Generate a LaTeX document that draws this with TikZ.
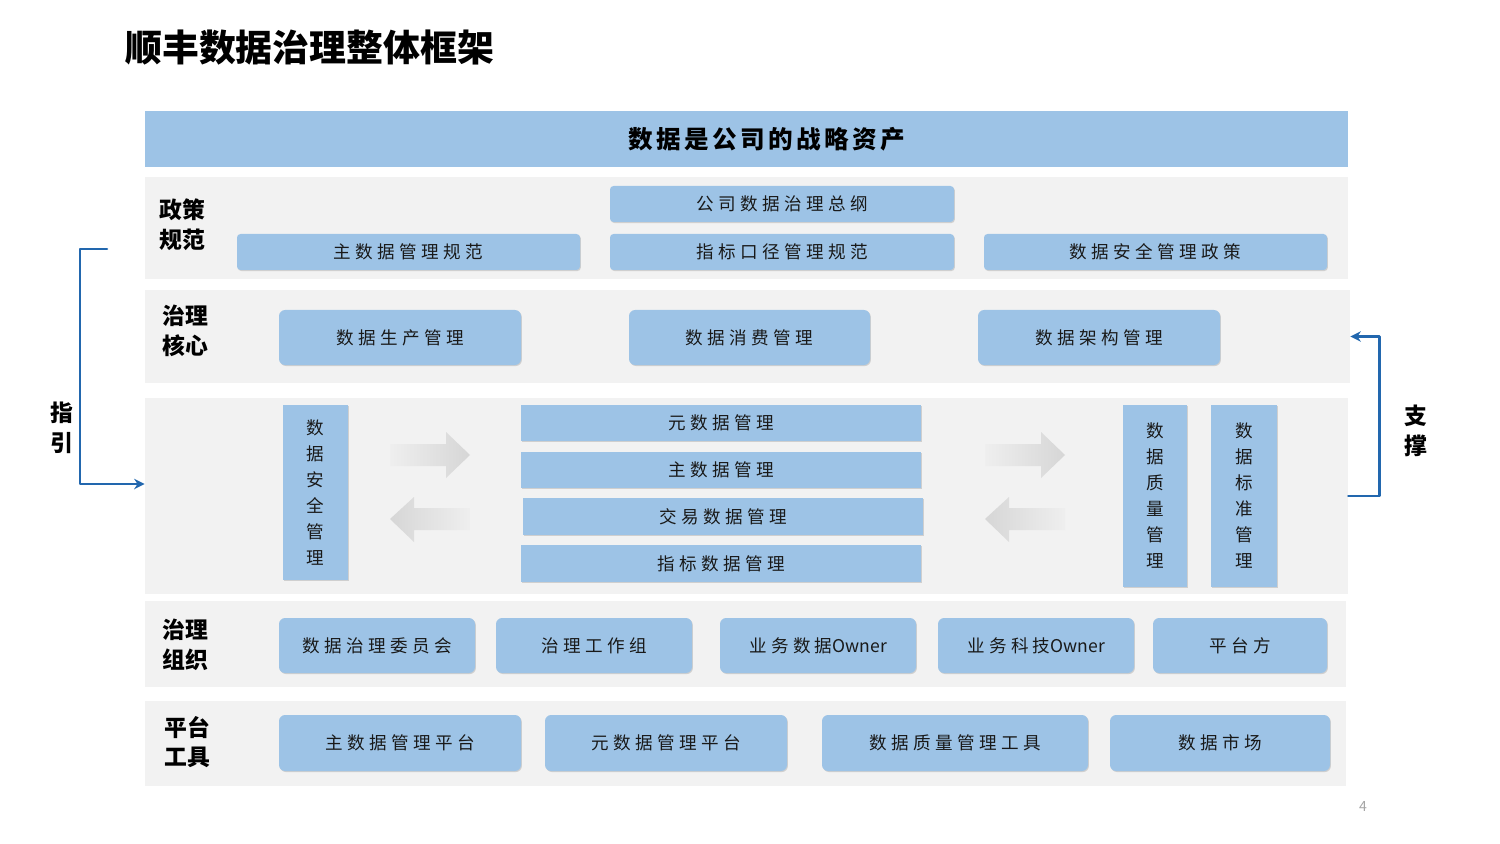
\documentclass[tikz,border=0pt]{standalone}
\usepackage{fontspec}
\newfontfamily\cjk{Noto Sans CJK SC}
\newfontfamily\cjksp[LetterSpace=25]{Noto Sans CJK SC}
\newfontfamily\cjkwide[LetterSpace=14]{Noto Sans CJK SC}
\usetikzlibrary{shadows,arrows.meta}
\definecolor{panelgray}{HTML}{F2F2F2}
\definecolor{boxblue}{HTML}{9DC3E6}
\definecolor{guideblue}{HTML}{2267AE}
\definecolor{arrowgray}{HTML}{D6D6D6}
\tikzset{
  panel/.style={fill=panelgray, draw=none, inner sep=0pt},
  banner/.style={fill=boxblue, draw=none, inner sep=0pt, font=\cjkwide\bfseries\fontsize{14}{16}\selectfont},
  bluebox/.style={fill=boxblue, draw=none, inner sep=0pt, text=black!90,
    font=\cjksp\fontsize{10}{12}\selectfont,
    drop shadow={opacity=0.3, shadow xshift=0.5pt, shadow yshift=-0.6pt}},
  policybox/.style={bluebox, rounded corners=2pt},
  roundbox/.style={bluebox, rounded corners=3.5pt},
  vbox/.style={bluebox, align=center, font=\cjk\fontsize{10}{14.8}\selectfont},
  rowlabel/.style={font=\cjk\bfseries\fontsize{13}{17}\selectfont, align=center},
  sidelabel/.style={font=\cjk\bfseries\fontsize{13}{17}\selectfont, align=center},
  guide/.style={draw=guideblue, line width=1.5pt, -{Stealth[length=6pt,width=6pt]}}
}
% box from corner (x1,y1) to corner (x2,y2), in pixels
\newcommand{\blk}[7]{%
  \node[#1, minimum width={(#5-#3)*0.02cm}, minimum height={(#6-#4)*0.02cm}] (#2) at ({(#3+#5)/2},{(#4+#6)/2}) {#7};}
\begin{document}
\begin{tikzpicture}[x=0.02cm, y=-0.02cm, line join=round, line cap=round]
  \useasboundingbox (0,0) rectangle (1500,844);
  \node[anchor=west, font=\cjk\bfseries\fontsize{21}{25}\selectfont] (title) at (119,48) {顺丰数据治理整体框架};
  \blk{banner}{top}{145}{111}{1348}{167}{\hspace*{0.8cm}数据是公司的战略资产}
  % layers
  \blk{panel}{policy}{145}{177}{1348}{279}{}
  \blk{panel}{core}{145}{290}{1350}{383}{}
  \blk{panel}{mid}{145}{398}{1348}{594}{}
  \blk{panel}{org}{145}{601}{1346}{687}{}
  \blk{panel}{tool}{145}{701}{1346}{786}{}
  \node[rowlabel] (lpolicy) at (182,225) {政策\\规范};
  \node[rowlabel] (lcore) at (185,330.5) {治理\\核心};
  \node[rowlabel] (lorg) at (185,644.5) {治理\\组织};
  \node[rowlabel] (ltool) at (187,742) {平台\\工具};
  % policy
  \blk{policybox}{outline}{610}{186}{954}{222}{公司数据治理总纲}
  \blk{policybox}{mdspec}{237}{234}{580}{270}{主数据管理规范}
  \blk{policybox}{kpispec}{610}{234}{954}{270}{指标口径管理规范}
  \blk{policybox}{secpolicy}{984}{234}{1327}{270}{数据安全管理政策}
  % core
  \blk{roundbox}{produce}{279}{310}{521}{365}{数据生产管理}
  \blk{roundbox}{consume}{629}{310}{870}{365}{数据消费管理}
  \blk{roundbox}{archi}{978}{310}{1220}{365}{数据架构管理}
  % middle layer
  \blk{vbox}{security}{283}{405}{348}{580}{数\\据\\安\\全\\管\\理}
  \blk{bluebox}{meta}{521}{405}{921}{441}{元数据管理}
  \blk{bluebox}{master}{521}{452}{921}{488}{主数据管理}
  \blk{bluebox}{trade}{523}{498}{923}{535}{交易数据管理}
  \blk{bluebox}{kpidata}{521}{545}{921}{582}{指标数据管理}
  \blk{vbox}{quality}{1123}{405}{1187}{587}{数\\据\\质\\量\\管\\理}
  \blk{vbox}{standard}{1211}{405}{1277}{587}{数\\据\\标\\准\\管\\理}
  \foreach \ax in {390,985}{
    \shade[left color=arrowgray!40, right color=arrowgray] (\ax,444) -- ++(56,0) -- ++(0,-12) -- ++(24,23) -- ++(-24,23) -- ++(0,-12) -- ++(-56,0) -- cycle;
    \shade[left color=arrowgray, right color=arrowgray!40] (\ax+80,508) -- ++(-56,0) -- ++(0,-11) -- ++(-24,22) -- ++(24,23) -- ++(0,-12) -- ++(56,0) -- cycle;
  }
  % organisation
  \blk{roundbox}{committee}{279}{618}{475}{673}{数据治理委员会}
  \blk{roundbox}{workgroup}{496}{618}{692}{673}{治理工作组}
  \blk{roundbox}{bizowner}{720}{618}{916}{673}{业务数据{\cjk Owner}}
  \blk{roundbox}{techowner}{938}{618}{1134}{673}{业务科技{\cjk Owner}}
  \blk{roundbox}{platform}{1153}{618}{1327}{673}{平台方}
  % tools
  \blk{roundbox}{mdtool}{279}{715}{521}{771}{主数据管理平台}
  \blk{roundbox}{metatool}{545}{715}{787}{771}{元数据管理平台}
  \blk{roundbox}{dqtool}{822}{715}{1088}{771}{数据质量管理工具}
  \blk{roundbox}{market}{1110}{715}{1330}{771}{数据市场}
  % guide / support
  \coordinate (gstart) at (107,249);
  \draw[guide] (gstart) -- ++(-27,0) |- ([yshift=0.24cm]mid.west);
  \node[sidelabel] (lguide) at (62,428) {指\\引};
  \draw[guide] (mid.east) -- ++(31,0) |- (core.east);
  \node[sidelabel] (lsupport) at (1416,431) {支\\撑};
  \node[text=gray!70, font=\cjk\fontsize{8}{9}\selectfont] (pagenum) at (1363,806) {4};
\end{tikzpicture}
\end{document}
